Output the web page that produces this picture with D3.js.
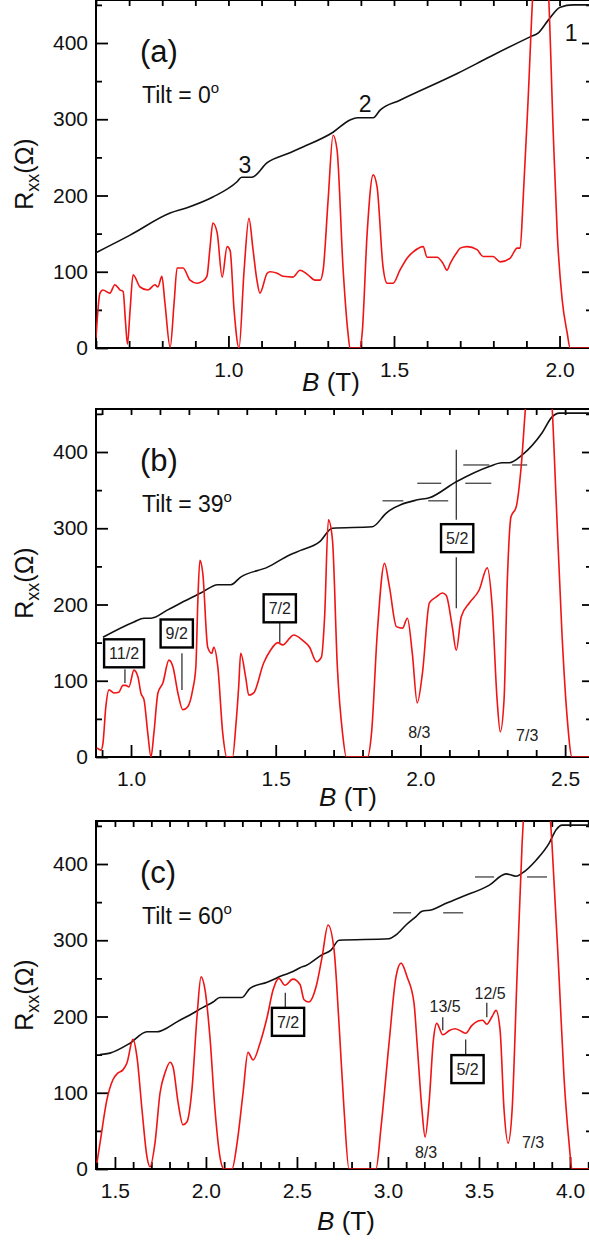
<!DOCTYPE html>
<html>
<head>
<meta charset="utf-8">
<script src="https://cdn.jsdelivr.net/npm/d3@7"></script>
<style>
  body { margin: 0; background: #fff; }
  text { font-family: "Liberation Sans", Arial, sans-serif; }
</style>
</head>
<body>
<div id="chart"></div>
<script>
// ---- data (B in tesla, R in ohm) ----

// panel (a), tilt 0
let redA_B = [0.600,0.612,0.621,0.642,0.657,0.673,0.682,0.689,0.695,0.703,0.712,0.733,0.757,0.778,0.787,0.799,0.808,0.824,0.836,0.845,0.863,0.884,0.905,0.920,0.935,0.944,0.953,0.966,0.981,0.996,1.005,1.017,1.032,1.047,1.062,1.074,1.086,1.095,1.117,1.126,1.147,1.165,1.195,1.216,1.240,1.262,1.277,1.286,1.301,1.316,1.328,1.346,1.361,1.367,1.398,1.404,1.419,1.437,1.449,1.467,1.479,1.497,1.518,1.540,1.558,1.588,1.600,1.630,1.648,1.660,1.670,1.691,1.700,1.721,1.751,1.769,1.799,1.821,1.851,1.872,1.881,1.890,1.905,1.920,1.941,1.966,1.981,1.993,2.008,2.023,2.032,2.092];
let redA   = [13,72,76,72,83,76,74,35,5,50,96,80,76,83,80,94,60,1,60,105,105,89,85,87,94,130,164,151,93,133,128,50,0,100,170,130,89,72,98,100,98,94,93,102,96,89,89,102,194,279,260,106,20,0,0,20,151,227,211,106,85,85,102,118,126,133,119,119,111,102,111,126,131,133,129,120,120,113,118,131,131,194,325,470,560,470,282,151,63,20,0,0];
let blackA_B = [0.600,0.703,0.824,0.875,0.953,1.026,1.040,1.071,1.117,1.186,1.216,1.316,1.367,1.390,1.437,1.458,1.518,1.691,1.790,1.911,1.935,1.966,2.002,2.041,2.092];
let blackA   = [125,148,177,184,198,218,224,224,243,256,262,283,299,302,302,312,325,360,382,408,413,430,447,450,450];

// panel (b), tilt 39
let redB_B = [0.882,0.896,0.903,0.913,0.924,0.941,0.958,0.972,0.982,0.993,1.010,1.024,1.034,1.045,1.058,1.069,1.079,1.093,1.110,1.131,1.145,1.162,1.179,1.196,1.213,1.224,1.231,1.238,1.248,1.265,1.279,1.286,1.300,1.317,1.331,1.351,1.362,1.372,1.379,1.396,1.407,1.424,1.458,1.482,1.507,1.524,1.551,1.562,1.593,1.617,1.641,1.658,1.669,1.682,1.696,1.713,1.731,1.744,1.817,1.831,1.851,1.876,1.893,1.917,1.938,1.955,1.972,1.989,2.007,2.031,2.055,2.076,2.089,2.110,2.124,2.141,2.169,2.203,2.231,2.248,2.265,2.276,2.289,2.300,2.313,2.331,2.348,2.365,2.414,2.455,2.469,2.489,2.507,2.524,2.586];
let redB   = [12,9,18,66,88,84,85,94,94,92,114,105,84,75,31,0,31,84,97,127,118,84,62,66,88,118,206,258,241,144,136,144,118,31,0,0,40,92,136,105,81,84,123,140,150,147,157,160,153,144,125,131,184,311,285,118,31,0,0,31,163,254,223,171,169,182,136,71,110,202,210,215,212,171,140,184,202,219,248,197,75,33,75,228,315,328,380,468,600,460,337,163,52,0,0];
let blackB_B = [0.903,1.010,1.045,1.069,1.127,1.172,1.241,1.300,1.345,1.379,1.472,1.548,1.586,1.651,1.696,1.834,1.882,1.986,2.031,2.124,2.238,2.282,2.307,2.351,2.420,2.455,2.479,2.586];
let blackB   = [157,177,182,182,193,202,215,226,226,236,249,265,271,282,300,302,320,337,340,361,381,386,386,396,425,446,451,451];

// panel (c), tilt 60
let redC_B = [1.401,1.418,1.456,1.489,1.517,1.544,1.566,1.599,1.621,1.649,1.676,1.693,1.720,1.748,1.775,1.803,1.819,1.847,1.874,1.896,1.923,1.951,1.973,1.995,2.022,2.050,2.077,2.099,2.143,2.171,2.204,2.231,2.259,2.297,2.336,2.369,2.401,2.434,2.478,2.517,2.539,2.566,2.605,2.638,2.671,2.704,2.731,2.759,2.786,2.934,2.962,3.006,3.044,3.072,3.105,3.143,3.160,3.187,3.204,3.226,3.250,3.268,3.301,3.340,3.369,3.400,3.427,3.460,3.495,3.520,3.543,3.572,3.594,3.616,3.638,3.660,3.682,3.709,3.737,3.819,3.901,3.940,3.967,3.995,4.011,4.110];
let redC   = [8,34,91,117,126,130,139,170,147,77,16,3,34,100,126,140,134,87,58,62,104,200,252,235,173,77,16,0,0,34,100,153,143,165,199,235,250,241,249,242,222,219,239,278,320,287,191,77,0,0,55,165,252,270,252,218,165,77,42,87,170,191,176,182,184,181,178,188,194,195,190,200,208,182,77,34,77,252,427,620,427,252,121,34,0,0];
let blackC_B = [1.418,1.473,1.583,1.676,1.731,1.786,1.841,1.912,1.984,2.039,2.077,2.198,2.242,2.336,2.423,2.478,2.517,2.550,2.638,2.687,2.731,3.006,3.044,3.099,3.154,3.187,3.242,3.297,3.407,3.555,3.649,3.704,3.737,3.814,3.885,3.924,3.957,4.110];
let blackC   = [150,152,165,180,180,185,193,202,212,219,225,225,237,245,254,259,264,267,281,287,300,302,307,320,331,338,340,346,357,372,387,384,388,405,427,445,451,451];

// ticks
let yTicks = [0, 100, 200, 300, 400];
let yMinor = [50, 150, 250, 350, 450];
let xTicksA = [1.0, 1.5, 2.0];
let xTicksB = [1.0, 1.5, 2.0, 2.5];
let xTicksC = [1.5, 2.0, 2.5, 3.0, 3.5, 4.0];

// annotations, in data coordinates
let levelsA = [{t:"3", b:1.050, r:240}, {t:"2", b:1.413, r:320}, {t:"1", b:2.035, r:414}];
let boxesB = [{t:"11/2", b:0.976, r:136}, {t:"9/2", b:1.158, r:162}, {t:"7/2", b:1.514, r:195}, {t:"5/2", b:2.127, r:287}];
let leadersB = [{b:0.979, r0:115, r1:97}, {b:1.176, r0:136, r1:88}, {b:1.514, r0:178, r1:150}, {b:2.124, r0:403, r1:311}, {b:2.124, r0:262, r1:195}];
let fracsB = [{t:"8/3", b:1.996, r:33}, {t:"7/3", b:2.369, r:29}];
let dashesB = [{b0:1.869, b1:1.941, r:336}, {b0:2.027, b1:2.096, r:336}, {b0:1.989, b1:2.072, r:359}, {b0:2.155, b1:2.245, r:359}, {b0:2.148, b1:2.238, r:383}, {b0:2.317, b1:2.369, r:383}];
let boxesC = [{t:"7/2", b:2.451, r:193}, {t:"5/2", b:3.437, r:131}];
let leadersC = [{b:2.436, r0:231, r1:211}, {b:3.427, r0:170, r1:150}, {b:3.301, r0:199, r1:182}, {b:3.543, r0:218, r1:199}];
let fracsC = [{t:"13/5", b:3.314, r:214}, {t:"12/5", b:3.561, r:231}, {t:"8/3", b:3.209, r:22}, {t:"7/3", b:3.797, r:35}];
let dashesC = [{b0:3.028, b1:3.127, r:336}, {b0:3.303, b1:3.413, r:336}, {b0:3.478, b1:3.583, r:383}, {b0:3.764, b1:3.874, r:383}];

// ---- layout ----
let width = 589;
let height = 1241;
let left = 96, right = 590;
let rMax = 456.4;

let panels = [
	{tag:"(a)", tilt:"0", top:0, bottom:348, xdom:[0.6, 2.092], xticks:xTicksA,
	 redB:redA_B, red:redA, blackB:blackA_B, black:blackA, titleX:331, titleY:391,
	 levels:levelsA, boxes:[], leaders:[], fracs:[], dashes:[]},
	{tag:"(b)", tilt:"39", top:409, bottom:757, xdom:[0.879, 2.586], xticks:xTicksB,
	 redB:redB_B, red:redB, blackB:blackB_B, black:blackB, titleX:348, titleY:806,
	 levels:[], boxes:boxesB, leaders:leadersB, fracs:fracsB, dashes:dashesB},
	{tag:"(c)", tilt:"60", top:821, bottom:1169, xdom:[1.396, 4.110], xticks:xTicksC,
	 redB:redC_B, red:redC, blackB:blackC_B, black:blackC, titleX:346, titleY:1230,
	 levels:[], boxes:boxesC, leaders:leadersC, fracs:fracsC, dashes:dashesC}
];

let svg = d3.select("#chart")
			.append("svg")
			.attr("width", width)
			.attr("height", height);

svg.append("rect")
	.attr("width", width)
	.attr("height", height)
	.attr("fill", "white");

panels.forEach(drawPanel);

function styleAxis(sel) {
	sel.select(".domain").remove();
	sel.selectAll(".tick line").attr("stroke", "#000").attr("stroke-width", 1.8);
	sel.selectAll("text")
		.attr("font-size", 21)
		.attr("font-family", "Liberation Sans, Arial, sans-serif")
		.attr("fill", "#111");
}

function minorTicks(dom, majors) {
	let out = [];
	for (let k = Math.ceil(dom[0] * 10); k <= Math.floor(dom[1] * 10); k++) {
		let v = k / 10;
		if (!majors.some(m => Math.abs(m - v) < 1e-6)) out.push(v);
	}
	return out;
}

function drawPanel(p, i) {
	let xScale = d3.scaleLinear().domain(p.xdom).range([left, right]);
	let yScale = d3.scaleLinear().domain([0, rMax]).range([p.bottom, p.top]);
	let g = svg.append("g");

	let clipId = "clip" + i;
	svg.append("clipPath").attr("id", clipId)
		.append("rect")
		.attr("x", left).attr("y", p.top)
		.attr("width", right - left).attr("height", p.bottom - p.top);

	let allX = minorTicks(p.xdom, []);
	let minX = minorTicks(p.xdom, p.xticks);

	// axes, ticks inward
	g.append("g").attr("transform", `translate(${left},0)`)
		.call(d3.axisLeft(yScale).tickValues(yTicks).tickSizeInner(-12).tickSizeOuter(0).tickPadding(8))
		.call(styleAxis);
	g.append("g").attr("transform", `translate(${left},0)`)
		.call(d3.axisLeft(yScale).tickValues(yMinor.filter(v => v < rMax)).tickSize(-6).tickFormat(""))
		.call(styleAxis);
	g.append("g").attr("transform", `translate(${right},0)`)
		.call(d3.axisRight(yScale).tickValues(yTicks.slice(1)).tickSize(-8).tickFormat(""))
		.call(styleAxis);
	g.append("g").attr("transform", `translate(${right},0)`)
		.call(d3.axisRight(yScale).tickValues(yMinor).tickSize(-4).tickFormat(""))
		.call(styleAxis);
	g.append("g").attr("transform", `translate(0,${p.bottom})`)
		.call(d3.axisBottom(xScale).tickValues(p.xticks).tickSizeInner(-12).tickSizeOuter(0).tickPadding(14).tickFormat(d3.format(".1f")))
		.call(styleAxis);
	g.append("g").attr("transform", `translate(0,${p.bottom})`)
		.call(d3.axisBottom(xScale).tickValues(minX).tickSize(-7).tickFormat(""))
		.call(styleAxis);
	g.append("g").attr("transform", `translate(0,${p.top})`)
		.call(d3.axisTop(xScale).tickValues(allX).tickSize(-6).tickFormat(""))
		.call(styleAxis);

	g.append("rect")
		.attr("x", left).attr("y", p.top)
		.attr("width", right - left).attr("height", p.bottom - p.top)
		.attr("fill", "none").attr("stroke", "#000").attr("stroke-width", 2);

	// guide marks
	g.selectAll(".dash").data(p.dashes).enter().append("line")
		.attr("x1", d => xScale(d.b0)).attr("x2", d => xScale(d.b1))
		.attr("y1", d => yScale(d.r)).attr("y2", d => yScale(d.r))
		.attr("stroke", "#444").attr("stroke-width", 1.3);
	g.selectAll(".lead").data(p.leaders).enter().append("line")
		.attr("x1", d => xScale(d.b)).attr("x2", d => xScale(d.b))
		.attr("y1", d => yScale(d.r0)).attr("y2", d => yScale(d.r1))
		.attr("stroke", "#333").attr("stroke-width", 1.3);

	// curves
	let line = d3.line().curve(d3.curveMonotoneX)
		.x(d => xScale(d[0])).y(d => yScale(d[1]));
	let curves = g.append("g").attr("clip-path", `url(#${clipId})`);
	curves.append("path")
		.attr("d", line(p.blackB.map((b, k) => [b, p.black[k]])))
		.attr("fill", "none").attr("stroke", "#111").attr("stroke-width", 1.6);
	curves.append("path")
		.attr("d", line(p.redB.map((b, k) => [b, p.red[k]])))
		.attr("fill", "none").attr("stroke", "#f01414").attr("stroke-width", 1.6);

	// boxed filling factors
	p.boxes.forEach(d => {
		let bg = g.append("g").attr("transform", `translate(${xScale(d.b)},${yScale(d.r)})`);
		let rect = bg.append("rect").attr("fill", "white").attr("stroke", "#000").attr("stroke-width", 2.4);
		let t = bg.append("text").text(d.t)
			.attr("text-anchor", "middle").attr("dy", "0.36em")
			.attr("font-size", 16).attr("fill", "#222");
		let w = t.node().getComputedTextLength() + 10;
		rect.attr("x", -w / 2).attr("y", -14).attr("width", w).attr("height", 28);
	});

	g.selectAll(".frac").data(p.fracs).enter().append("text")
		.attr("x", d => xScale(d.b)).attr("y", d => yScale(d.r))
		.attr("text-anchor", "middle").attr("dy", "0.36em")
		.attr("font-size", 16).attr("fill", "#222")
		.text(d => d.t);

	g.selectAll(".lvl").data(p.levels).enter().append("text")
		.attr("x", d => xScale(d.b)).attr("y", d => yScale(d.r))
		.attr("text-anchor", "middle").attr("dy", "0.36em")
		.attr("font-size", 23).attr("fill", "#111")
		.text(d => d.t);

	// panel tag and tilt
	g.append("text").attr("x", 140).attr("y", p.top + 51).attr("dy", "0.36em")
		.attr("font-size", 31).attr("fill", "#111").text(p.tag);
	let tilt = g.append("text").attr("x", 142).attr("y", p.top + 95).attr("dy", "0.36em")
		.attr("font-size", 23).attr("fill", "#111");
	tilt.append("tspan").text("Tilt = " + p.tilt);
	tilt.append("tspan").attr("dy", -10).attr("font-size", 15).text("o");

	// axis titles
	let cy = (p.top + p.bottom) / 2;
	let yl = g.append("text")
		.attr("transform", `translate(33,${cy}) rotate(-90)`)
		.attr("text-anchor", "middle").attr("font-size", 25).attr("fill", "#111");
	yl.append("tspan").text("R");
	yl.append("tspan").attr("dy", 6).attr("font-size", 18).text("xx");
	yl.append("tspan").attr("dy", -6).text("(Ω)");

	let xl = g.append("text").attr("x", p.titleX).attr("y", p.titleY)
		.attr("text-anchor", "middle").attr("font-size", 26).attr("fill", "#111");
	xl.append("tspan").attr("font-style", "italic").text("B");
	xl.append("tspan").text(" (T)");
}
</script>
</body>
</html>
